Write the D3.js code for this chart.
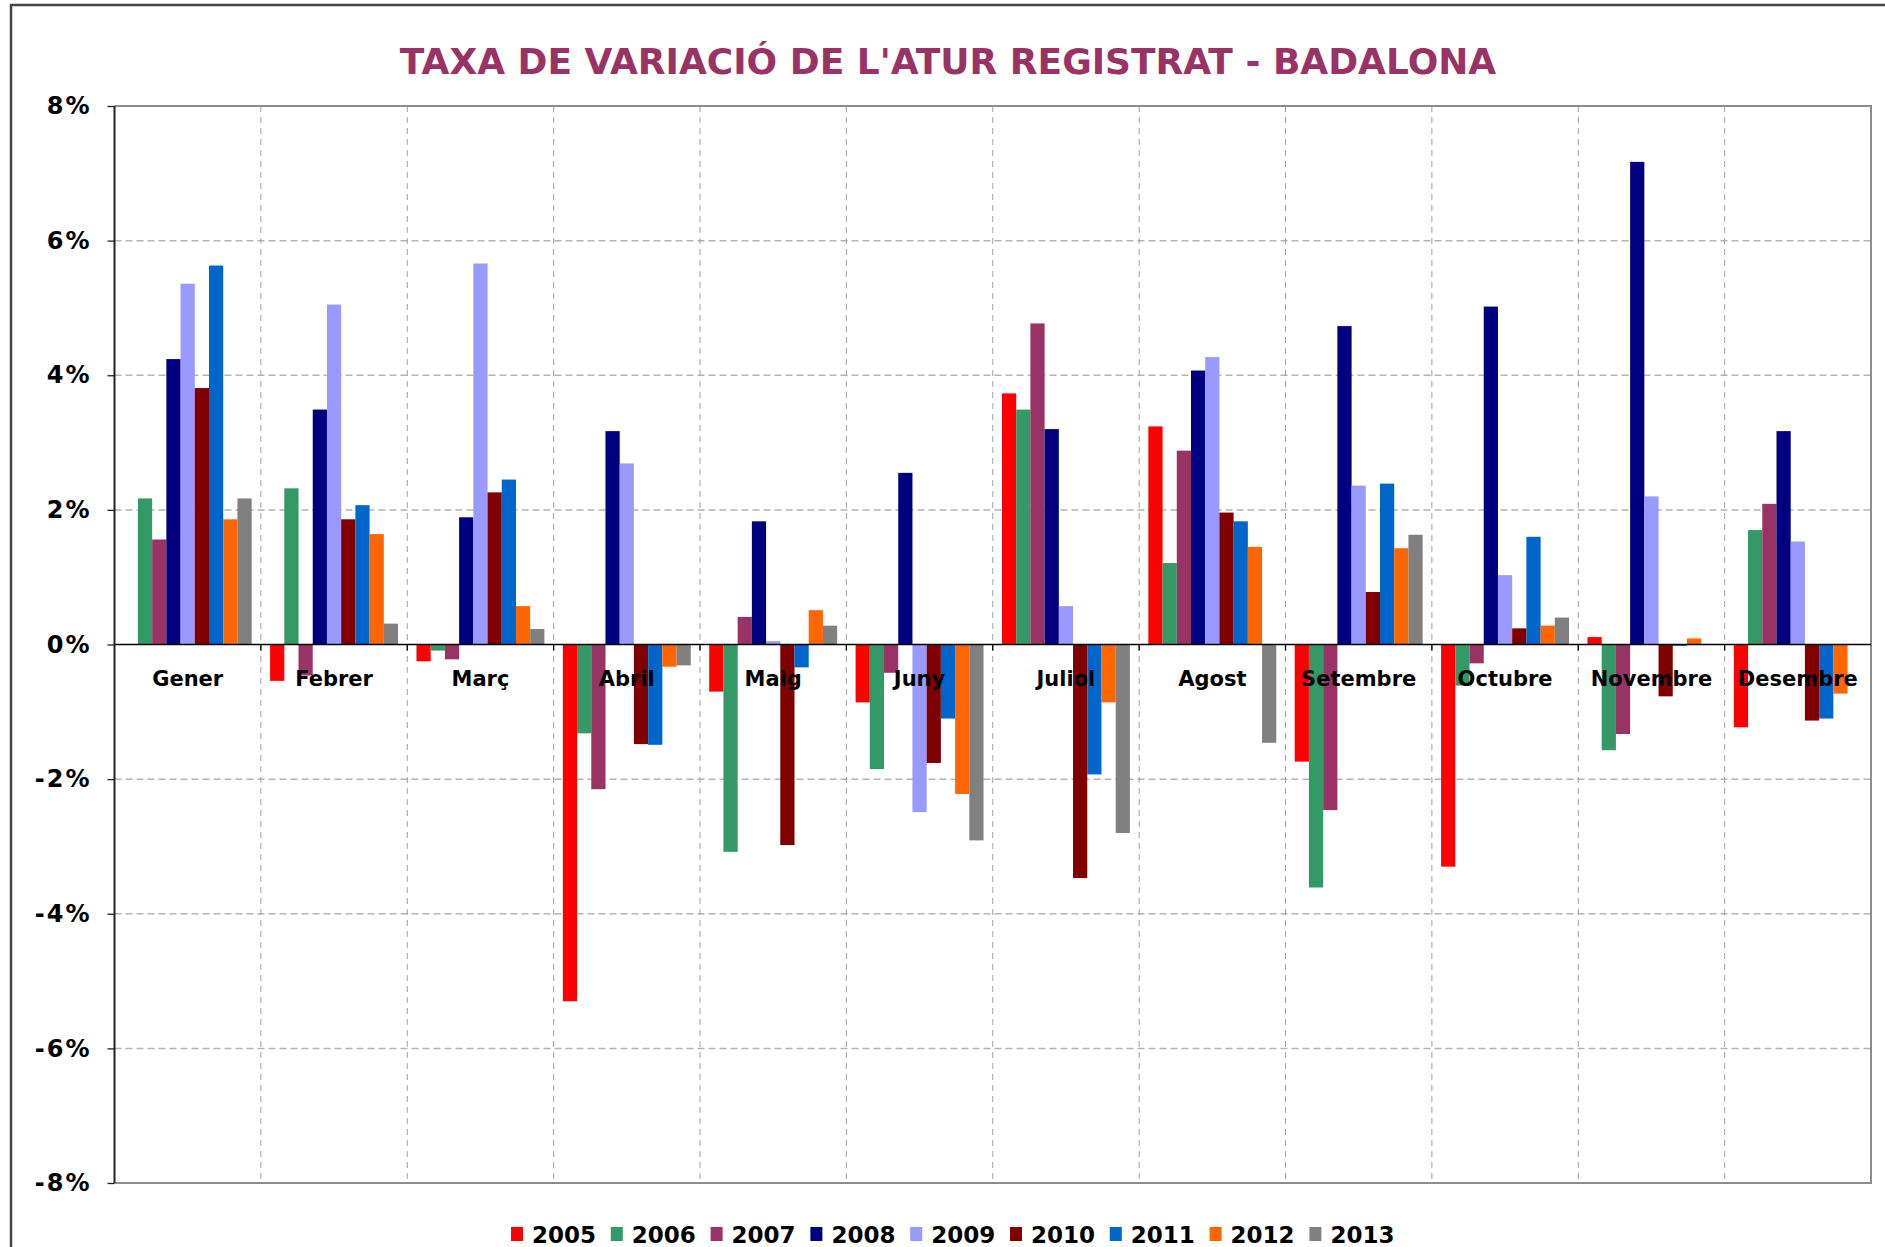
<!DOCTYPE html>
<html>
<head>
<meta charset="utf-8">
<script src="https://cdn.jsdelivr.net/npm/d3@7"></script>
<style>
  body { margin: 0; background: #fff; }
  svg { display: block; font-family: "DejaVu Sans", Verdana, sans-serif; }
</style>
</head>
<body>
<script>
// month categories and year series
const months = ["Gener", "Febrer", "Març", "Abril", "Maig", "Juny", "Juliol", "Agost", "Setembre", "Octubre", "Novembre", "Desembre"];
const years = ["2005", "2006", "2007", "2008", "2009", "2010", "2011", "2012", "2013"];
const colors = ["#ff0000", "#339966", "#993366", "#000080", "#9999ff", "#800000", "#0066cc", "#ff6600", "#808080"];
const yTicks = [-8, -6, -4, -2, 0, 2, 4, 6, 8];

// taxa de variació (%) per mes
const v2005 = [0, -0.54, -0.25, -5.30, -0.70, -0.86, 3.73, 3.24, -1.74, -3.30, 0.11, -1.23];
const v2006 = [2.17, 2.32, -0.09, -1.32, -3.08, -1.85, 3.49, 1.21, -3.61, -0.61, -1.57, 1.70];
const v2007 = [1.56, -0.46, -0.22, -2.15, 0.41, -0.42, 4.77, 2.88, -2.46, -0.28, -1.33, 2.09];
const v2008 = [4.24, 3.49, 1.89, 3.17, 1.83, 2.55, 3.20, 4.07, 4.73, 5.02, 7.17, 3.17];
const v2009 = [5.36, 5.05, 5.66, 2.69, 0.05, -2.49, 0.57, 4.27, 2.36, 1.03, 2.20, 1.53];
const v2010 = [3.81, 1.86, 2.26, -1.48, -2.98, -1.76, -3.47, 1.96, 0.78, 0.24, -0.77, -1.13];
const v2011 = [5.63, 2.07, 2.45, -1.49, -0.34, -1.10, -1.93, 1.83, 2.39, 1.60, -0.02, -1.10];
const v2012 = [1.86, 1.64, 0.57, -0.33, 0.51, -2.22, -0.86, 1.45, 1.43, 0.28, 0.09, -0.73];
const v2013 = [2.17, 0.31, 0.23, -0.31, 0.28, -2.91, -2.80, -1.46, 1.63, 0.40, 0, 0];
const series = [v2005, v2006, v2007, v2008, v2009, v2010, v2011, v2012, v2013];

const width = 1885;
const height = 1247;
const margin = { top: 106, right: 14, bottom: 64, left: 114.5 };

const svg = d3.select("body")
    .append("svg")
    .attr("width", width)
    .attr("height", height);

// outer frame
svg.append("rect")
    .attr("x", 11).attr("y", 5)
    .attr("width", width + 20).attr("height", height + 20)
    .attr("fill", "#fff")
    .attr("stroke", "#444")
    .attr("stroke-width", 2.5);

const x0 = d3.scaleBand()
    .domain(months)
    .range([margin.left, width - margin.right])
    .paddingInner(0.126)
    .paddingOuter(0.063);

const x1 = d3.scaleBand()
    .domain(years)
    .range([0, x0.bandwidth()]);

const y = d3.scaleLinear()
    .domain([-8, 8])
    .range([height - margin.bottom, margin.top]);

const step = x0.step();
const left = margin.left, right = width - margin.right;

// horizontal grid
svg.append("g")
    .selectAll("line")
    .data(yTicks.filter(d => d !== 0 && Math.abs(d) !== 8))
    .join("line")
    .attr("x1", left).attr("x2", right)
    .attr("y1", d => y(d)).attr("y2", d => y(d))
    .attr("stroke", "#b4b4b4")
    .attr("stroke-width", 1.5)
    .attr("stroke-dasharray", "7,4");

// vertical grid at month boundaries
svg.append("g")
    .selectAll("line")
    .data(d3.range(1, months.length))
    .join("line")
    .attr("x1", i => left + i * step).attr("x2", i => left + i * step)
    .attr("y1", y(8)).attr("y2", y(-8))
    .attr("stroke", "#a0a0a0")
    .attr("stroke-width", 1)
    .attr("stroke-dasharray", "6,5");

// bars
const groups = svg.append("g")
    .selectAll("g")
    .data(months)
    .join("g")
    .attr("transform", d => `translate(${x0(d)},0)`);

groups.selectAll("rect")
    .data((m, i) => years.map((yr, j) => ({ year: yr, value: series[j][i], color: colors[j] })))
    .join("rect")
    .filter(d => d.value !== 0)
    .attr("x", d => x1(d.year))
    .attr("width", x1.bandwidth())
    .attr("y", d => y(Math.max(0, d.value)))
    .attr("height", d => Math.abs(y(d.value) - y(0)))
    .attr("fill", d => d.color);

// plot border (top, right, bottom)
svg.append("path")
    .attr("d", `M${left},${y(8)}H${right}V${y(-8)}H${left}`)
    .attr("fill", "none")
    .attr("stroke", "#8c8c8c")
    .attr("stroke-width", 2);

// zero line with month ticks
svg.append("line")
    .attr("x1", left).attr("x2", right)
    .attr("y1", y(0)).attr("y2", y(0))
    .attr("stroke", "#000")
    .attr("stroke-width", 1.3);

svg.append("g")
    .selectAll("line")
    .data(d3.range(1, months.length))
    .join("line")
    .attr("x1", i => left + i * step).attr("x2", i => left + i * step)
    .attr("y1", y(0)).attr("y2", y(0) + 6)
    .attr("stroke", "#000")
    .attr("stroke-width", 1.3);

// y axis
const yAxis = d3.axisLeft(y)
    .tickValues(yTicks)
    .tickSize(7)
    .tickPadding(16)
    .tickFormat(d => d + "%");

svg.append("g")
    .attr("transform", `translate(${left},0)`)
    .call(yAxis)
    .attr("font-family", null)
    .call(g => g.select(".domain").attr("stroke", "#222").attr("stroke-width", 2).attr("d", `M0,${y(8)}V${y(-8)}`))
    .call(g => g.selectAll(".tick line").attr("stroke", "#222").attr("stroke-width", 1.3))
    .call(g => g.selectAll(".tick text")
        .attr("fill", "#000")
        .style("font-family", "'DejaVu Sans', Verdana, sans-serif")
        .style("font-size", "24px")
        .style("font-weight", "bold")
        .style("letter-spacing", "2px"));

// month labels
svg.append("g")
    .selectAll("text")
    .data(months)
    .join("text")
    .attr("x", d => x0(d) + x0.bandwidth() / 2)
    .attr("y", y(0) + 41)
    .attr("text-anchor", "middle")
    .style("font-size", "21px")
    .style("font-weight", "bold")
    .text(d => d);

// title
svg.append("text")
    .attr("x", 948)
    .attr("y", 74)
    .attr("text-anchor", "middle")
    .attr("fill", "#993366")
    .style("font-size", "36px")
    .style("font-weight", "bold")
    .text("TAXA DE VARIACIÓ DE L'ATUR REGISTRAT - BADALONA");

// legend
const legend = svg.append("g")
    .selectAll("g")
    .data(years)
    .join("g")
    .attr("transform", (d, i) => `translate(${511 + i * 99.8},1234)`);

legend.append("rect")
    .attr("x", 0).attr("y", -7)
    .attr("width", 12).attr("height", 14)
    .attr("fill", (d, i) => colors[i]);

legend.append("text")
    .attr("x", 21)
    .attr("y", 8.5)
    .style("font-size", "23px")
    .style("font-weight", "bold")
    .text(d => d);
</script>
</body>
</html>
